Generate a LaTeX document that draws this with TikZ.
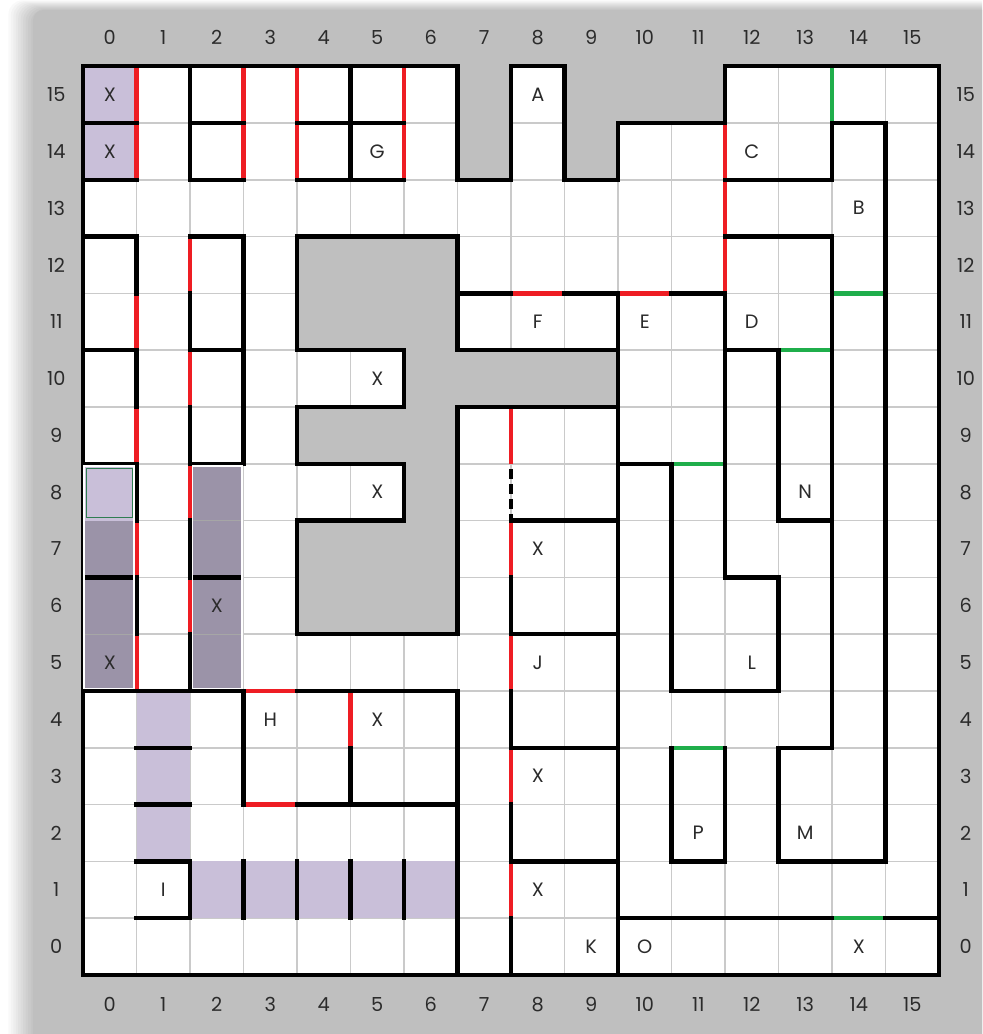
\documentclass[tikz,border=0pt]{standalone}
\usepackage{fontspec}
\setmainfont{Poppins}
\usetikzlibrary{calc}
\definecolor{panel}{HTML}{BFBFBF}
\definecolor{blockgray}{HTML}{BFBFBF}
\definecolor{wred}{HTML}{EE1D23}
\definecolor{wgreen}{HTML}{1FAE4B}
\definecolor{gridc}{HTML}{CACACA}
\definecolor{lavl}{HTML}{C9BFD9}
\definecolor{lavd}{HTML}{9B93A8}
\definecolor{txt}{HTML}{2B2B2B}
\definecolor{gbord}{HTML}{2F7D52}
\tikzset{
  wk/.style={line width=2.6pt, black, line cap=rect, line join=miter},
  wr/.style={line width=2.6pt, wred, line cap=butt},
  wg/.style={line width=2.6pt, wgreen, line cap=butt},
  wdash/.style={line width=2.6pt, black, line cap=butt, dash pattern=on 0.2cm off 0.1cm, dash phase=0.2cm},
  gline/.style={line width=0.9pt, gridc},
  lbl/.style={text=txt, font=\fontsize{11}{13}\selectfont, inner sep=0pt},
  axl/.style={text=txt, font=\fontsize{11}{13}\selectfont, inner sep=0pt}
}
\def\outerpath{(0,0) -- (0,16) -- (7,16) -- (7,14) -- (8,14) -- (8,16) -- (9,16) -- (9,14) -- (10,14) -- (10,15) -- (12,15) -- (12,16) -- (16,16) -- (16,0) -- cycle}
\def\graypath{(4,13) -- (7,13) -- (7,11) -- (10,11) -- (10,10) -- (7,10) -- (7,6) -- (4,6) -- (4,8) -- (6,8) -- (6,9) -- (4,9) -- (4,10) -- (6,10) -- (6,11) -- (4,11) -- cycle}
\begin{document}
\begin{tikzpicture}[x=1.07cm,y=1.136cm]
\path[use as bounding box] (-1.5514,-1.0387) rectangle (16.8037,17.1655);
\clip (-1.5514,-1.0387) rectangle (16.8037,17.1655);
\fill[white] (-1.5514,-1.0387) rectangle (16.8037,17.1655);
% soft shadow
\foreach \i in {1,...,10}{
  \fill[black, opacity=0.022, rounded corners=8pt]
    ([xshift=-\i*1.4pt, yshift=\i*0.55pt]-0.9346,16.989) rectangle (17.5,-2);
}
% panel
\fill[panel, rounded corners=6pt] (-0.9346,16.989) rectangle (17.5,-2);
% white floor
\fill[white] \outerpath;
% grid lines
\begin{scope}
  \clip \outerpath;
  \foreach \k in {1,...,15}{
    \draw[gline] (\k,0) -- (\k,16);
    \draw[gline] (0,\k) -- (16,\k);
  }
\end{scope}
% gray block
\fill[blockgray] \graypath;
% light lavender cells
\fill[lavl] (0,14) rectangle (1,16);
\fill[lavl] (1,2) rectangle (2,5);
\fill[lavl] (2,1) rectangle (7,2);
% red doors
\draw[wr] (1,16)--(1,14) (3,16)--(3,14) (4,16)--(4,14) (6,16)--(6,14);
\draw[wr] (1,12)--(1,11) (1,10)--(1,9) (1,8)--(1,7) (1,6)--(1,5);
\draw[wr] (2,13)--(2,12) (2,11)--(2,10) (2,9)--(2,8) (2,7)--(2,6);
\draw[wr] (8,12)--(9,12) (10,12)--(11,12) (12,15)--(12,12);
\draw[wr] (8,10)--(8,9) (8,8)--(8,7) (8,6)--(8,5) (8,4)--(8,3) (8,2)--(8,1);
\draw[wr] (3,5)--(4,5) (3,3)--(4,3) (5,5)--(5,4);
% green doors
\draw[wg] (14,16)--(14,15) (14,12)--(15,12) (13,11)--(14,11) (11,9)--(12,9) (11,4)--(12,4) (14,1)--(15,1);
% dashed door
\draw[wdash] (8,9)--(8,8);
% black walls
\draw[wk] \outerpath;
\draw[wk] \graypath;
\draw[wk] (0,15)--(1,15) (0,14)--(1,14);
\draw[wk] (2,16)--(2,14) (2,15)--(3,15) (2,14)--(3,14);
\draw[wk] (5,16)--(5,14) (4,15)--(6,15) (4,14)--(6,14);
\draw[wk] (0,13)--(1,13)--(1,12) (0,11)--(1,11)--(1,10) (0,9)--(1,9)--(1,8) (1,7)--(1,6) (0,5)--(3,5);
\draw[wk] (2,12)--(2,11) (2,13)--(3,13)--(3,9)--(2,9) (2,11)--(3,11) (2,10)--(2,9) (2,8)--(2,7) (2,6)--(2,5);
\draw[wk] (7,12)--(8,12) (9,12)--(10,12)--(10,0);
\draw[wk] (11,12)--(12,12)--(12,7)--(13,7)--(13,5)--(11,5)--(11,9)--(10,9);
\draw[wk] (12,14)--(14,14)--(14,15)--(15,15)--(15,2)--(13,2)--(13,4)--(14,4)--(14,13)--(12,13);
\draw[wk] (12,11)--(13,11)--(13,8)--(14,8);
\draw[wk] (11,4)--(11,2)--(12,2)--(12,4);
\draw[wk] (10,1)--(14,1) (15,1)--(16,1);
\draw[wk] (8,7)--(8,6) (8,5)--(8,4) (8,3)--(8,2) (8,1)--(8,0);
\draw[wk] (8,8)--(10,8) (8,6)--(10,6) (8,4)--(10,4) (8,2)--(10,2);
\draw[wk] (4,5)--(7,5)--(7,0) (3,5)--(3,3) (4,3)--(7,3) (5,4)--(5,3);
\draw[wk] (1,4)--(2,4) (1,3)--(2,3) (1,2)--(2,2)--(2,1)--(1,1);
\draw[wk] (3,1)--(3,2) (4,1)--(4,2) (5,1)--(5,2) (6,1)--(6,2);
% dark lavender columns
\fill[lavd] (0.02,5.04) rectangle (0.955,8.0);
\fill[lavl] (0.02,8.0) rectangle (0.955,8.96);
\draw[line width=0.4pt, gray!70] (0.02,6) -- (0.955,6);
\draw[line width=0.8pt, gbord] (0.065,8.05) rectangle (0.925,8.915);
\draw[line width=0.8pt, white] (0.02,5.04) rectangle (0.955,8.96);
\fill[lavd] (2.045,5.04) rectangle (2.97,8.96);
\draw[line width=0.4pt, gray!70] (2.045,6) -- (2.97,6) (2.045,8) -- (2.97,8);
\draw[line width=0.8pt, white] (2.045,5.04) rectangle (2.97,8.96);
\draw[wk, line cap=butt] (0.04,7) -- (0.94,7) (2.06,7) -- (2.95,7);
% cell labels
\node[lbl] (x0a) at (0.5,15.5) {X};
\node[lbl] (x0b) at (0.5,14.5) {X};
\node[lbl] (gG) at (5.5,14.5) {G};
\node[lbl] (aA) at (8.5,15.5) {A};
\node[lbl] (cC) at (12.5,14.5) {C};
\node[lbl] (bB) at (14.5,13.5) {B};
\node[lbl] (fF) at (8.5,11.5) {F};
\node[lbl] (eE) at (10.5,11.5) {E};
\node[lbl] (dD) at (12.5,11.5) {D};
\node[lbl] (x5a) at (5.5,10.5) {X};
\node[lbl] (x5b) at (5.5,8.5) {X};
\node[lbl] (nN) at (13.5,8.5) {N};
\node[lbl] (x8a) at (8.5,7.5) {X};
\node[lbl] (x2a) at (2.5,6.5) {X};
\node[lbl] (x0c) at (0.5,5.5) {X};
\node[lbl] (jJ) at (8.5,5.5) {J};
\node[lbl] (lL) at (12.5,5.5) {L};
\node[lbl] (hH) at (3.5,4.5) {H};
\node[lbl] (x5c) at (5.5,4.5) {X};
\node[lbl] (x8b) at (8.5,3.5) {X};
\node[lbl] (pP) at (11.5,2.5) {P};
\node[lbl] (mM) at (13.5,2.5) {M};
\node[lbl] (iI) at (1.5,1.5) {I};
\node[lbl] (x8c) at (8.5,1.5) {X};
\node[lbl] (kK) at (9.5,0.5) {K};
\node[lbl] (oO) at (10.5,0.5) {O};
\node[lbl] (x14) at (14.5,0.5) {X};
% axis labels
\foreach \i in {0,...,15}{
  \node[axl] (top\i) at (\i+0.5,16.5) {\i};
  \node[axl] (bot\i) at (\i+0.5,-0.52) {\i};
  \node[axl] (lft\i) at (-0.5,\i+0.5) {\i};
  \node[axl] (rgt\i) at (16.5,\i+0.5) {\i};
}
\end{tikzpicture}
\end{document}
